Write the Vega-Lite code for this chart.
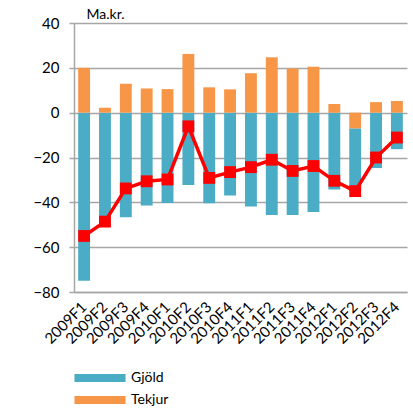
{
  "$schema": "https://vega.github.io/schema/vega-lite/v6.json",
  "width": 333,
  "height": 269,
  "autosize": {"type": "none"},
  "padding": {"left": 74, "top": 23, "right": 6, "bottom": 117},
  "config": {
    "font": "Lato",
    "view": {"stroke": null},
    "axis": {"labelFont": "Lato", "titleFont": "Lato", "labelColor": "#000", "titleColor": "#000"}
  },
  "datasets": {
    "bars": [
      {"q": "2009F1", "series": "Gjöld", "value": -75}, {"q": "2009F1", "series": "Tekjur", "value": 20},
      {"q": "2009F2", "series": "Gjöld", "value": -50.8}, {"q": "2009F2", "series": "Tekjur", "value": 2.2},
      {"q": "2009F3", "series": "Gjöld", "value": -46.7}, {"q": "2009F3", "series": "Tekjur", "value": 12.9},
      {"q": "2009F4", "series": "Gjöld", "value": -41.4}, {"q": "2009F4", "series": "Tekjur", "value": 10.8},
      {"q": "2010F1", "series": "Gjöld", "value": -40.3}, {"q": "2010F1", "series": "Tekjur", "value": 10.5},
      {"q": "2010F2", "series": "Gjöld", "value": -32.3}, {"q": "2010F2", "series": "Tekjur", "value": 26.2},
      {"q": "2010F3", "series": "Gjöld", "value": -40.4}, {"q": "2010F3", "series": "Tekjur", "value": 11.3},
      {"q": "2010F4", "series": "Gjöld", "value": -36.9}, {"q": "2010F4", "series": "Tekjur", "value": 10.4},
      {"q": "2011F1", "series": "Gjöld", "value": -41.9}, {"q": "2011F1", "series": "Tekjur", "value": 17.6},
      {"q": "2011F2", "series": "Gjöld", "value": -45.7}, {"q": "2011F2", "series": "Tekjur", "value": 24.7},
      {"q": "2011F3", "series": "Gjöld", "value": -45.7}, {"q": "2011F3", "series": "Tekjur", "value": 19.7},
      {"q": "2011F4", "series": "Gjöld", "value": -44.3}, {"q": "2011F4", "series": "Tekjur", "value": 20.5},
      {"q": "2012F1", "series": "Gjöld", "value": -34.3}, {"q": "2012F1", "series": "Tekjur", "value": 3.9},
      {"q": "2012F2", "series": "Gjöld", "value": -28}, {"q": "2012F2", "series": "Tekjur", "value": -7},
      {"q": "2012F3", "series": "Gjöld", "value": -24.7}, {"q": "2012F3", "series": "Tekjur", "value": 4.7},
      {"q": "2012F4", "series": "Gjöld", "value": -16.3}, {"q": "2012F4", "series": "Tekjur", "value": 5.2}
    ],
    "net": [
      {"q": "2009F1", "net": -55}, {"q": "2009F2", "net": -48.6}, {"q": "2009F3", "net": -33.8},
      {"q": "2009F4", "net": -30.6}, {"q": "2010F1", "net": -29.8}, {"q": "2010F2", "net": -6.1},
      {"q": "2010F3", "net": -29.1}, {"q": "2010F4", "net": -26.5}, {"q": "2011F1", "net": -24.3},
      {"q": "2011F2", "net": -21}, {"q": "2011F3", "net": -26}, {"q": "2011F4", "net": -23.8},
      {"q": "2012F1", "net": -30.4}, {"q": "2012F2", "net": -35}, {"q": "2012F3", "net": -20},
      {"q": "2012F4", "net": -11.1}
    ]
  },
  "encoding": {
    "x": {
      "field": "q", "type": "nominal", "sort": null,
      "scale": {"paddingInner": 0.43, "paddingOuter": 0.2},
      "axis": {
        "title": null, "labelAngle": -45, "labelAlign": "right", "labelBaseline": "middle",
        "labelFontSize": 15, "labelPadding": 12, "ticks": false,
        "domainColor": "#a6a6a6", "domainWidth": 1.5
      }
    }
  },
  "layer": [
    {
      "data": {"name": "bars"},
      "mark": {"type": "bar"},
      "encoding": {
        "y": {
          "field": "value", "type": "quantitative", "stack": "zero",
          "scale": {"domain": [-80, 40], "nice": false},
          "axis": {
            "values": [-80, -60, -40, -20, 0, 20, 40],
            "title": "Ma.kr.", "titleAngle": 0, "titleAlign": "left", "titleBaseline": "middle",
            "titleX": 12, "titleY": -9, "titleFontSize": 14, "titleFontWeight": "normal",
            "labelFontSize": 15, "labelPadding": 10,
            "tickSize": 5, "tickColor": "#a6a6a6", "tickWidth": 1.5,
            "domainColor": "#a6a6a6", "domainWidth": 1.5,
            "grid": true, "gridColor": "#a6a6a6", "gridWidth": 1.5
          }
        },
        "color": {
          "field": "series", "type": "nominal",
          "scale": {"domain": ["Gjöld", "Tekjur"], "range": ["#4BACC6", "#F79646"]},
          "legend": {
            "title": null, "orient": "none", "legendX": 19, "legendY": 348, "direction": "vertical",
            "symbolType": "M-4,-0.63H4V0.63H-4Z", "symbolSize": 163, "symbolStrokeWidth": 0,
            "labelFontSize": 14, "labelOffset": 24, "rowPadding": 8
          }
        },
        "order": {"field": "series", "sort": "descending"}
      }
    },
    {
      "data": {"name": "net"},
      "mark": {"type": "line", "color": "#FF0000", "strokeWidth": 3.5},
      "encoding": {"y": {"field": "net", "type": "quantitative"}}
    },
    {
      "data": {"name": "net"},
      "mark": {"type": "point", "shape": "square", "filled": true, "color": "#FF0000", "opacity": 1, "size": 140},
      "encoding": {"y": {"field": "net", "type": "quantitative"}}
    }
  ]
}
